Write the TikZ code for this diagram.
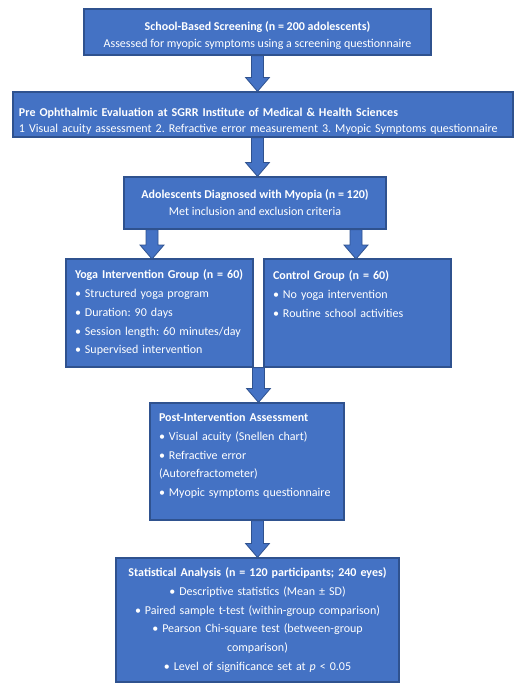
\documentclass[tikz,border=0pt]{standalone}
\usepackage{fontspec}
\setmainfont{Carlito}
\usetikzlibrary{calc}
\frenchspacing

\definecolor{boxblue}{HTML}{4472C4}
\definecolor{edgeblue}{HTML}{2F528F}

\tikzset{
	flowbox/.style={rectangle, draw=edgeblue, fill=boxblue, line width=1.2pt, text=white, inner xsep=9pt, inner ysep=0pt, font=\fontsize{12}{18.75}\selectfont},
	arrowbody/.style={draw=edgeblue, fill=boxblue, line width=0.8pt, line join=miter}
}

% block arrow pointing down from #1 to #2
\newcommand{\blockarrow}[2]{%
	\path[arrowbody] let \p1=(#1), \p2=(#2) in
		(\x1-6pt,\y1) -- (\x1+6pt,\y1) -- (\x1+6pt,\y2+14pt) -- (\x1+12pt,\y2+14pt)
		-- (\x1,\y2) -- (\x1-12pt,\y2+14pt) -- (\x1-6pt,\y2+14pt) -- cycle;}

\begin{document}
\begin{tikzpicture}
	[x=1pt,y=-1pt]
	\useasboundingbox (0,0) rectangle (517,686);
	\node[flowbox, minimum width=347pt, minimum height=46pt, align=center, font=\fontsize{12}{17}\selectfont] (screen) at (257.5,32)
		{\rule{0pt}{16pt}\textbf{School-Based Screening (n = 200 adolescents)}\\Assessed for myopic symptoms using a screening questionnaire};
	\node[flowbox, minimum width=500pt, minimum height=45pt, text width=488pt, align=left, inner xsep=6pt, font=\fontsize{12}{15.7}\selectfont] (preeval) at (263,114.5)
		{\rule{0pt}{22pt}\textbf{Pre Ophthalmic Evaluation at SGRR Institute of Medical \& Health Sciences}\\1 Visual acuity assessment 2. Refractive error measurement 3. Myopic Symptoms questionnaire};
	\node[flowbox, minimum width=262pt, minimum height=52pt, align=center, font=\fontsize{12}{17}\selectfont] (diag) at (255,203)
		{\textbf{Adolescents Diagnosed with Myopia (n = 120)}\\Met inclusion and exclusion criteria};
	\node[flowbox, minimum width=187pt, minimum height=108pt, text width=169pt, align=left] (yoga) at (159.5,313)
		{\textbf{Yoga Intervention Group (n = 60)}\\• Structured yoga program\\• Duration: 90 days\\• Session length: 60 minutes/day\\• Supervised intervention};
	\node[flowbox, minimum width=187pt, minimum height=108pt, text width=169pt, align=left] (ctrl) at (357.5,313)
		{\textbf{Control Group (n = 60)}\\• No yoga intervention\\• Routine school activities\\~\\~};
	\node[flowbox, minimum width=194pt, minimum height=117pt, text width=176pt, align=left] (post) at (247,461.5)
		{\rule{0pt}{14pt}\textbf{Post-Intervention Assessment}\\• Visual acuity (Snellen chart)\\• Refractive error\\(Autorefractometer)\\• Myopic symptoms questionnaire\\~};
	\node[flowbox, minimum width=283pt, minimum height=124pt, text width=265pt, align=center] (stats) at (257.5,620)
		{\textbf{Statistical Analysis (n = 120 participants; 240 eyes)}\\• Descriptive statistics (Mean ± SD)\\• Paired sample t-test (within-group comparison)\\• Pearson Chi-square test (between-group\\comparison)\\• Level of significance set at \textit{p} < 0.05};

	\coordinate (yogain) at (152,259);
	\coordinate (ctrlin) at (356,259);
	\coordinate (merge) at ($(yoga.south east)!0.5!(ctrl.south west)$);

	\blockarrow{screen.south}{screen.south |- preeval.north}
	\blockarrow{preeval.south -| screen.south}{diag.north -| screen.south}
	\blockarrow{diag.south -| yogain}{yogain}
	\blockarrow{diag.south -| ctrlin}{ctrlin}
	\blockarrow{merge}{merge |- post.north}
	\blockarrow{post.south -| stats.north}{stats.north}
\end{tikzpicture}
\end{document}
